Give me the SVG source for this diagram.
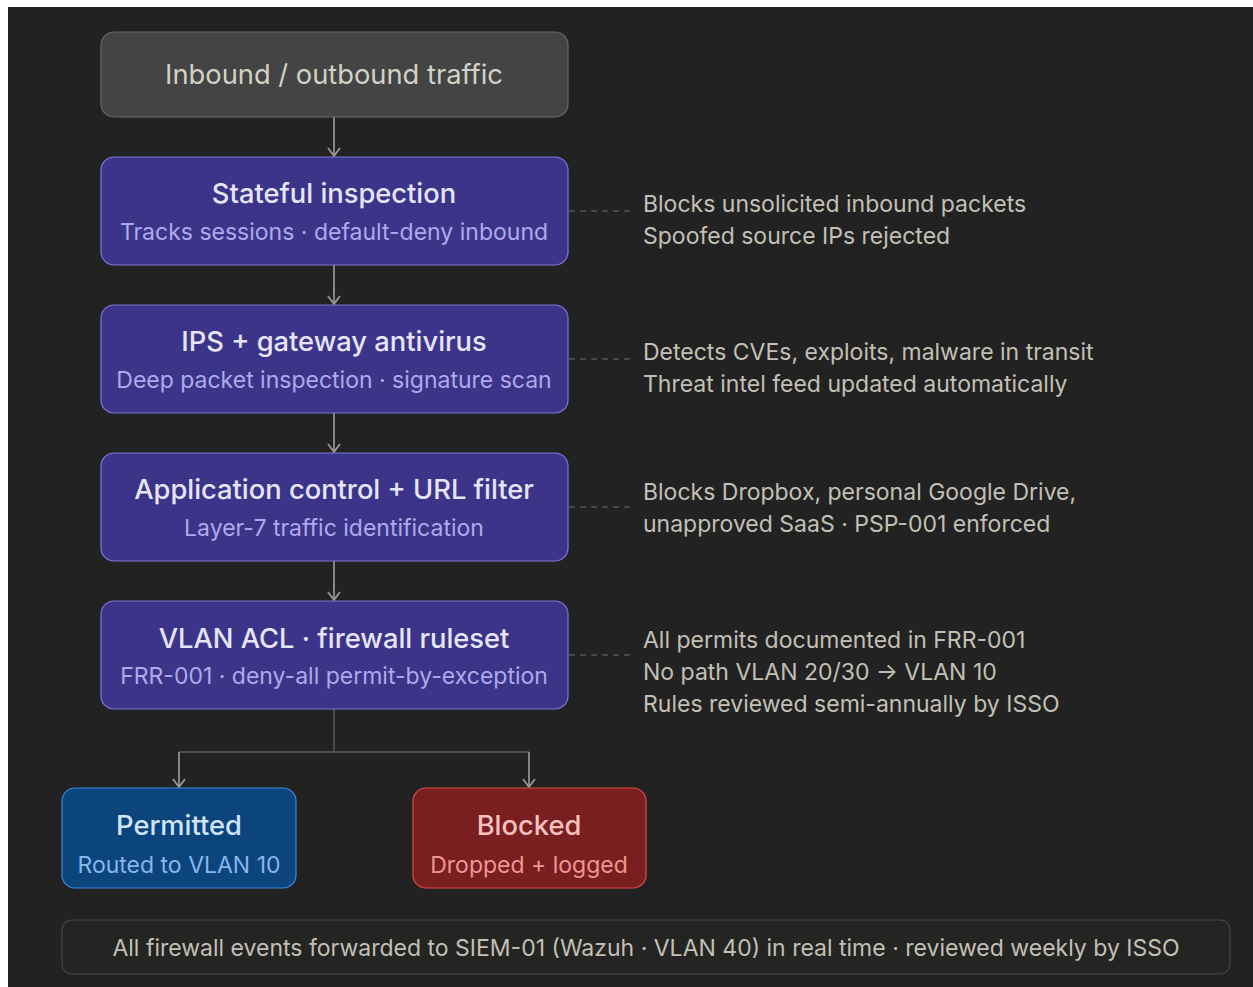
<svg xmlns="http://www.w3.org/2000/svg" width="1253" height="987" viewBox="0 0 1253 987">
  <style>
    text { font-family: Inter, "Noto Sans", "Liberation Sans", sans-serif; text-anchor: middle; }
    .t { font-size: 27.3px; font-weight: 500; }
    .s { font-size: 23px; }
    .note { font-size: 23px; fill: #c2c0b6; text-anchor: start; }
    .purple rect { fill: #3c3489; stroke: #7f77dd; stroke-width: 1.2; }
    .purple .t { fill: #e6e4f7; }
    .purple .s { fill: #afa9ec; }
    .flow { fill: none; stroke: #9a988f; stroke-width: 1.7; }
    .split { fill: none; stroke: #5f5d58; stroke-width: 1.4; }
    .dash { fill: none; stroke: #6e6c66; stroke-width: 1.2; stroke-dasharray: 6 5; }
  </style>
  <defs>
    <!-- open chevron head, drawn along +x so orient="auto" points it down the line -->
    <marker id="arr" viewBox="0 0 14 14" refX="12" refY="7" markerWidth="14" markerHeight="14" markerUnits="userSpaceOnUse" orient="auto">
      <path d="M4 1 L12 7 L4 13" fill="none" stroke="#9a988f" stroke-width="1.8" stroke-linejoin="miter"/>
    </marker>
  </defs>

  <rect x="0" y="0" width="1253" height="987" fill="#ffffff"/>
  <rect x="8" y="7" width="1245" height="980" fill="#222222"/>

  <g id="connectors">
    <line class="flow" x1="334" y1="117" x2="334" y2="156" marker-end="url(#arr)"/>
    <line class="flow" x1="334" y1="265" x2="334" y2="304" marker-end="url(#arr)"/>
    <line class="flow" x1="334" y1="413" x2="334" y2="452" marker-end="url(#arr)"/>
    <line class="flow" x1="334" y1="561" x2="334" y2="600" marker-end="url(#arr)"/>
    <polyline class="split" points="334,709 334,752"/>
    <polyline class="split" points="179,752 529,752"/>
    <line class="flow" x1="179" y1="752" x2="179" y2="787" marker-end="url(#arr)"/>
    <line class="flow" x1="529" y1="752" x2="529" y2="787" marker-end="url(#arr)"/>
    <line class="dash" x1="569" y1="211" x2="634" y2="211"/>
    <line class="dash" x1="569" y1="359" x2="634" y2="359"/>
    <line class="dash" x1="569" y1="507" x2="634" y2="507"/>
    <line class="dash" x1="569" y1="655" x2="634" y2="655"/>
  </g>

  <g id="traffic">
    <rect x="101" y="32" width="467" height="85" rx="13" fill="#444444" stroke="#6a6862" stroke-width="1.2"/>
    <text class="t" x="334" y="84" fill="#d3d1c7" style="font-weight:400">Inbound / outbound traffic</text>
  </g>

  <g id="stateful" class="purple">
    <rect x="101" y="157" width="467" height="108" rx="13"/>
    <text class="t" x="334" y="203">Stateful inspection</text>
    <text class="s" x="334" y="240">Tracks sessions · default-deny inbound</text>
  </g>

  <g id="ips" class="purple">
    <rect x="101" y="305" width="467" height="108" rx="13"/>
    <text class="t" x="334" y="351">IPS + gateway antivirus</text>
    <text class="s" x="334" y="388">Deep packet inspection · signature scan</text>
  </g>

  <g id="appcontrol" class="purple">
    <rect x="101" y="453" width="467" height="108" rx="13"/>
    <text class="t" x="334" y="499">Application control + URL filter</text>
    <text class="s" x="334" y="536">Layer-7 traffic identification</text>
  </g>

  <g id="vlanacl" class="purple">
    <rect x="101" y="601" width="467" height="108" rx="13"/>
    <text class="t" x="334" y="648">VLAN ACL · firewall ruleset</text>
    <text class="s" x="334" y="684">FRR-001 · deny-all permit-by-exception</text>
  </g>

  <g id="permitted">
    <rect x="62" y="788" width="234" height="100" rx="13" fill="#0c447c" stroke="#378add" stroke-width="1.2"/>
    <text class="t" x="179" y="835" fill="#d0e4f7">Permitted</text>
    <text class="s" x="179" y="873" fill="#85b7eb">Routed to VLAN 10</text>
  </g>

  <g id="blocked">
    <rect x="413" y="788" width="233" height="100" rx="13" fill="#791f1f" stroke="#e24b4a" stroke-width="1.2"/>
    <text class="t" x="529" y="835" fill="#f7c1c1">Blocked</text>
    <text class="s" x="529" y="873" fill="#f09595">Dropped + logged</text>
  </g>

  <g id="notes">
    <text class="note" x="643" y="212">Blocks unsolicited inbound packets</text>
    <text class="note" x="643" y="244">Spoofed source IPs rejected</text>
    <text class="note" x="643" y="360">Detects CVEs, exploits, malware in transit</text>
    <text class="note" x="643" y="392">Threat intel feed updated automatically</text>
    <text class="note" x="643" y="500">Blocks Dropbox, personal Google Drive,</text>
    <text class="note" x="643" y="532">unapproved SaaS · PSP-001 enforced</text>
    <text class="note" x="643" y="648">All permits documented in FRR-001</text>
    <text class="note" x="643" y="680">No path VLAN 20/30 → VLAN 10</text>
    <text class="note" x="643" y="712">Rules reviewed semi-annually by ISSO</text>
  </g>

  <g id="siem">
    <rect x="62" y="920" width="1168" height="54" rx="10" fill="#242423" stroke="#474641" stroke-width="1.2"/>
    <text x="646" y="956" style="font-size:23px" fill="#c2c0b6">All firewall events forwarded to SIEM-01 (Wazuh · VLAN 40) in real time · reviewed weekly by ISSO</text>
  </g>
</svg>
